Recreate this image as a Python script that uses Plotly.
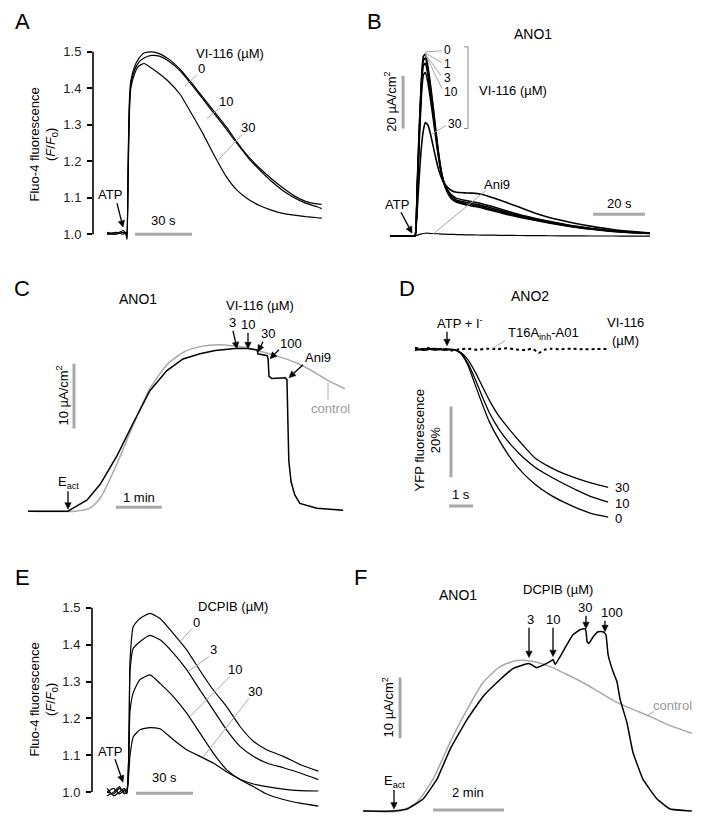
import math
import plotly.graph_objects as go

W, H = 703, 825
FONT = "Liberation Sans, Arial, sans-serif"
GRAY = "#a8a8a8"

# ---------------- data ----------------
# Panel A: Fluo-4 F/F0 vs time (s), VI-116 (uM)
A_t = [-10.5, -6, -2, -0.5, 0, 0.6, 1.2, 2, 4, 6, 9, 13, 17, 22, 28, 34, 40, 46, 52, 58, 64, 70, 76, 82, 88, 94, 100, 102.5]
A_0 = [1.005, 1.0, 1.01, 1.0, 0.985, 1.2, 1.36, 1.42, 1.46, 1.48, 1.497, 1.50, 1.495, 1.48, 1.452, 1.415, 1.375, 1.335, 1.296, 1.252, 1.212, 1.18, 1.152, 1.127, 1.105, 1.09, 1.083, 1.082]
A_10 = [1.0, 1.005, 1.0, 1.005, 0.99, 1.18, 1.34, 1.41, 1.45, 1.47, 1.483, 1.49, 1.488, 1.474, 1.448, 1.41, 1.37, 1.33, 1.29, 1.248, 1.208, 1.175, 1.145, 1.12, 1.1, 1.085, 1.075, 1.07]
A_30 = [1.0, 1.0, 1.005, 1.0, 0.99, 1.15, 1.32, 1.4, 1.44, 1.46, 1.468, 1.455, 1.44, 1.418, 1.383, 1.33, 1.275, 1.215, 1.16, 1.12, 1.095, 1.078, 1.066, 1.057, 1.052, 1.048, 1.045, 1.044]
A_ticks = [1.0, 1.1, 1.2, 1.3, 1.4, 1.5]
A_ticklabels = ["1.0", "1.1", "1.2", "1.3", "1.4", "1.5"]

# Panel B: ANO1 current (uA/cm2) vs time (s), VI-116 (uM) and Ani9
B_t = [-9.6, -1, 0, 0.8, 1.6, 2.4, 3.2, 4, 5, 6, 7, 8, 9, 10, 11, 12.5, 14, 16, 19, 22, 26, 30, 35, 40, 46, 52, 60, 68, 76, 84, 90.4]
B_0 = [0, 0, 0, 18, 40, 58, 68, 69, 64, 57, 49, 40, 32, 25, 20.5, 16.5, 14.2, 12.8, 12, 11.4, 10.6, 9.6, 8.3, 7.2, 6, 4.9, 3.6, 2.6, 1.8, 1.3, 1.0]
B_1 = [0, 0, 0, 17, 39, 57, 66.5, 67.5, 62.5, 55.5, 48, 39.5, 31.5, 25, 20.5, 16.8, 14.6, 13.2, 12.4, 11.8, 11, 10, 8.7, 7.5, 6.3, 5.1, 3.8, 2.7, 1.9, 1.35, 1.05]
B_3 = [0, 0, 0, 16, 37, 55, 64.5, 65.5, 61, 54, 46.5, 38.5, 31, 25, 20.8, 17.2, 15, 13.6, 12.9, 12.3, 11.5, 10.5, 9.1, 7.8, 6.5, 5.3, 3.9, 2.8, 1.95, 1.4, 1.1]
B_10 = [0, 0, 0, 15, 35, 52, 61, 62, 58, 51.5, 44.5, 37, 30, 24.5, 20.8, 17.6, 15.6, 14.3, 13.6, 13, 12.2, 11.1, 9.6, 8.2, 6.8, 5.5, 4.0, 2.9, 2.0, 1.45, 1.1]
B_30 = [0, 0, 0, 9, 22, 33, 40, 43, 42, 38.5, 34, 29.5, 25.5, 22.5, 20.3, 18.5, 17.3, 16.6, 16.4, 16.3, 15.8, 14.5, 12.8, 11, 8.8, 7, 5.2, 3.7, 2.5, 1.7, 1.2]
B_ani9 = [0, 0, 0, 0.3, 0.6, 0.8, 1.0, 1.1, 1.1, 1.0, 1.0, 0.9, 0.9, 0.8, 0.8, 0.7, 0.7, 0.6, 0.5, 0.45, 0.4, 0.35, 0.3, 0.25, 0.2, 0.15, 0.1, 0.05, 0.05, 0, 0]

# Panel C: ANO1 current (uA/cm2) vs time (min), VI-116 cumulative + Ani9
C_t = [-0.87, 0, 0.11, 0.41, 0.70, 1.07, 1.41, 1.78, 2.15, 2.5, 2.87, 3.2, 3.63, 3.91, 4.11, 4.13, 4.33, 4.35, 4.37, 4.43, 4.72, 4.76, 4.78, 4.80, 4.85, 4.93, 5.04, 5.41, 5.98]
C_v = [0, 0, 0.46, 1.69, 4.15, 8.6, 13.5, 18.6, 21.7, 23.5, 24.3, 24.8, 25.1, 25.1, 24.9, 24.3, 24.0, 23.5, 20.8, 20.5, 20.6, 20.3, 14, 7.8, 4.5, 2.5, 1.2, 0.46, 0.15]
C_ctrl_t = [-0.87, 0.15, 0.48, 0.70, 1.07, 1.41, 1.78, 2.15, 2.5, 2.87, 3.30, 3.91, 4.28, 4.65, 5.0, 5.37, 5.65, 6.02]
C_ctrl_v = [0, 0, 0.46, 2.0, 7.4, 13.2, 18.9, 22.6, 24.5, 25.4, 25.7, 25.2, 24.5, 23.7, 22.8, 21.4, 20.2, 18.9]

# Panel D: ANO2 YFP fluorescence change (%) vs time (s)
D_t = [0, 0.4, 0.8, 1.2, 1.6, 1.9, 2.2, 2.5, 2.8, 3.1, 3.5, 4.0, 4.5, 5.0, 5.6, 6.2, 6.8, 7.4, 8.05]
D_0 = [0.3, -0.2, 0.4, 0, 0.1, -1.0, -4.3, -9.8, -15.3, -20.4, -25.5, -30.8, -34.9, -38.0, -40.9, -43.1, -44.9, -46.4, -47.3]
D_10 = [0, 0.3, -0.1, 0.2, 0, -0.9, -3.8, -8.2, -13.2, -17.8, -22.5, -26.9, -30.4, -33.2, -35.7, -37.9, -39.9, -41.7, -43.1]
D_30 = [-0.2, 0.2, 0.3, -0.1, 0, -0.7, -2.8, -6.2, -10.3, -14.3, -18.8, -23.1, -27.0, -30.6, -33.1, -35.0, -36.5, -37.8, -38.9]
D_inh_t = [0, 0.3, 0.6, 0.9, 1.2, 1.5, 1.8, 2.2, 2.6, 3.0, 3.4, 3.8, 4.2, 4.6, 4.9, 5.15, 5.4, 5.7, 6.0, 6.5, 7.0, 7.5, 8.1]
D_inh = [0.6, 0.2, 0.5, 0.1, 0.3, -0.2, 0.1, 0.3, 0.0, 0.3, 0.2, 0.4, 0.1, -0.1, 0.3, -0.9, 0.0, 0.3, 0.1, 0.3, 0.1, 0.2, 0.2]

# Panel E: Fluo-4 F/F0 vs time (s), DCPIB (uM)
E_t = [-10.5, -7, -4, -1.5, 0, 1.6, 3.3, 6.8, 12.1, 17.4, 24.4, 31.4, 38.4, 45.4, 52.4, 59.5, 66.5, 73.5, 82.3, 91.1, 100.7]
E_0 = [1.0, 1.01, 0.995, 1.005, 1.01, 1.359, 1.449, 1.471, 1.485, 1.471, 1.43, 1.386, 1.33, 1.277, 1.232, 1.178, 1.138, 1.115, 1.097, 1.075, 1.057]
E_3 = [0.99, 1.0, 1.015, 0.995, 1.0, 1.33, 1.39, 1.408, 1.425, 1.413, 1.377, 1.332, 1.277, 1.223, 1.169, 1.124, 1.097, 1.079, 1.066, 1.052, 1.034]
E_10 = [1.01, 0.99, 1.0, 1.01, 0.995, 1.22, 1.27, 1.305, 1.318, 1.295, 1.259, 1.214, 1.16, 1.106, 1.061, 1.034, 1.015, 0.995, 0.98, 0.97, 0.962]
E_30 = [1.0, 0.995, 1.01, 1.0, 1.005, 1.1, 1.15, 1.169, 1.175, 1.172, 1.142, 1.115, 1.097, 1.079, 1.055, 1.035, 1.022, 1.015, 1.008, 1.004, 1.003]

# Panel F: ANO1 current (uA/cm2) vs time (min), DCPIB cumulative
F_t = [-0.87, -0.03, 0.37, 0.82, 1.21, 1.58, 2.06, 2.51, 2.99, 3.35, 3.78, 3.92, 4.0, 4.17, 4.39, 4.48, 4.54, 4.68, 4.87, 5.04, 5.24, 5.38, 5.41, 5.44, 5.49, 5.61, 5.75, 5.89, 5.97, 6.03, 6.17, 6.28, 6.37, 6.56, 6.73, 7.01, 7.41, 7.78, 8.39]
F_v = [0, 0, 0.33, 1.97, 5.25, 10.16, 15.08, 18.85, 21.64, 23.44, 24.26, 23.93, 23.6, 23.93, 24.59, 24.92, 24.1, 25.41, 27.38, 29.02, 29.84, 30.0, 29.51, 27.87, 27.54, 28.69, 29.51, 29.51, 29.02, 25.74, 22.95, 21.31, 18.36, 14.59, 9.67, 5.25, 1.97, 0.33, 0]
F_ctrl_t = [-0.87, 0.17, 0.65, 1.10, 1.58, 2.06, 2.51, 2.99, 3.46, 3.92, 4.39, 4.87, 5.32, 5.80, 6.28, 6.73, 7.21, 7.69, 8.39]
F_ctrl_v = [0, 0, 1.48, 5.25, 11.31, 16.72, 21.15, 23.77, 24.75, 24.59, 23.77, 22.46, 21.15, 19.51, 17.87, 16.72, 15.57, 14.26, 12.79]


# ---------------- helpers ----------------
def px(x):
    return x / W


def py(y):
    return 1 - y / H


def lin_range(p_a, v_a, p_b, v_b, lo, hi):
    s = (v_b - v_a) / (p_b - p_a)
    return [v_a + (lo - p_a) * s, v_a + (hi - p_a) * s]


fig = go.Figure()


def line(xs, ys, ax, color="black", width=1.3, dash=None, shape="spline", smooth=0.6):
    d = dict(color=color, width=width, shape=shape)
    if shape == "spline":
        d["smoothing"] = smooth
    if dash:
        d["dash"] = dash
    fig.add_trace(go.Scatter(x=xs, y=ys, mode="lines", line=d, xaxis="x" + ax, yaxis="y" + ax,
                             hoverinfo="skip", showlegend=False))


# Panel A
for ys in (A_30, A_10, A_0):
    line(A_t, ys, "", width=1.2, smooth=0.5)
# Panel B
line(B_t, B_ani9, "2", width=1.2)
for ys in (B_30, B_10, B_3, B_1, B_0):
    line(B_t, ys, "2", width=1.6, smooth=0.5)
# Panel C
line(C_ctrl_t, C_ctrl_v, "3", color=GRAY, width=1.5)
line(C_t, C_v, "3", width=1.5, shape="linear")
# Panel D
line(D_inh_t, D_inh, "4", width=2, dash="dot")
for ys in (D_30, D_10, D_0):
    line(D_t, ys, "4", width=1.3)
# Panel E
for ys in (E_30, E_10, E_3, E_0):
    line(E_t, ys, "5", width=1.2, smooth=0.5)
# Panel F
line(F_ctrl_t, F_ctrl_v, "6", color=GRAY, width=1.5)
line(F_t, F_v, "6", width=1.5, shape="spline", smooth=0.3)

# ---------------- axes ----------------
def xax(lo, hi, rng):
    return dict(domain=[px(lo), px(hi)], range=rng, visible=False, fixedrange=True)


def yax(top, bot, rng, anchor, visible=False):
    d = dict(domain=[py(bot), py(top)], range=rng, anchor=anchor, fixedrange=True)
    if not visible:
        d["visible"] = False
    else:
        d.update(showgrid=False, zeroline=False, showline=False, ticks="outside", ticklen=5,
                 tickwidth=1.5, tickcolor="black", tickvals=A_ticks, ticktext=A_ticklabels,
                 tickfont=dict(family=FONT, size=13, color="#222"), ticklabelstandoff=3)
    return d


layout_axes = dict(
    xaxis=xax(93, 330, lin_range(127, 0, 184, 30, 93, 330)),
    yaxis=yax(45, 240, lin_range(233, 1.0, 50, 1.5, 240, 45), "x", True),
    xaxis2=xax(385, 655, lin_range(415, 0, 467, 20, 385, 655)),
    yaxis2=yax(40, 240, lin_range(235, 0, 182, 20, 240, 40), "x2"),
    xaxis3=xax(20, 350, lin_range(68, 0, 114, 1, 20, 350)),
    yaxis3=yax(300, 518, lin_range(511, 0, 446, 10, 518, 300), "x3"),
    xaxis4=xax(400, 640, lin_range(415, 0, 439, 1, 400, 640)),
    yaxis4=yax(335, 525, lin_range(349, 0, 420, -20, 525, 335), "x4"),
    xaxis5=xax(92, 330, lin_range(127, 0, 184, 30, 92, 330)),
    yaxis5=yax(600, 815, lin_range(793, 1.0, 608, 1.5, 815, 600), "x5", True),
    xaxis6=xax(355, 700, lin_range(394, 0, 429.5, 1, 355, 700)),
    yaxis6=yax(595, 818, lin_range(812, 0, 751, 10, 818, 595), "x6"),
)

shapes = []


def dline(ax, x0, y0, x1, y1, color=GRAY, width=3):
    xr = "x" + ax if ax != "1" else "x"
    yr = "y" + ax if ax != "1" else "y"
    shapes.append(dict(type="line", xref=xr, yref=yr, x0=x0, y0=y0, x1=x1, y1=y1,
                       line=dict(color=color, width=width)))


def pline(x0, y0, x1, y1, color=GRAY, width=1):
    shapes.append(dict(type="line", xref="paper", yref="paper", x0=px(x0), y0=py(y0), x1=px(x1), y1=py(y1),
                       line=dict(color=color, width=width)))


def arrow(x0, y0, x1, y1, head=6.5, half=3.2, width=1.3):
    dx, dy = x1 - x0, y1 - y0
    n = math.hypot(dx, dy)
    ux, uy = dx / n, dy / n
    bx, by = x1 - head * ux, y1 - head * uy
    pline(x0, y0, bx, by, color="black", width=width)
    p1 = (bx - half * uy, by + half * ux)
    p2 = (bx + half * uy, by - half * ux)
    path = "M {:.5f},{:.5f} L {:.5f},{:.5f} L {:.5f},{:.5f} Z".format(
        px(x1), py(y1), px(p1[0]), py(p1[1]), px(p2[0]), py(p2[1]))
    shapes.append(dict(type="path", xref="paper", yref="paper", path=path,
                       fillcolor="black", line=dict(color="black", width=0.5)))


# y-axis lines (only 1.0 - 1.5)
shapes.append(dict(type="line", xref="x domain", yref="y", x0=0, x1=0, y0=1.0, y1=1.5,
                   line=dict(color="black", width=1.6)))
shapes.append(dict(type="line", xref="x5 domain", yref="y5", x0=0, x1=0, y0=1.0, y1=1.5,
                   line=dict(color="black", width=1.6)))

# scale bars (data units)
dline("1", 4.2, 1.0, 34.2, 1.0)              # 30 s
dline("2", -4.6, 40.75, -4.6, 60.75)         # 20 uA/cm2
dline("2", 68.5, 8.3, 88.5, 8.3)             # 20 s
dline("3", 0.13, 12.77, 0.13, 22.77)         # 10 uA/cm2
dline("3", 1.04, 0.6, 2.04, 0.6)             # 1 min
dline("4", 1.5, -36.06, 1.5, -16.06)         # 20 %
dline("4", 1.42, -44.2, 2.42, -44.2)         # 1 s
dline("5", 4.74, 0.997, 34.74, 0.997)        # 30 s
dline("6", 0.17, 11.97, 0.17, 21.97)         # 10 uA/cm2
dline("6", 1.1, 0.16, 3.1, 0.16)             # 2 min

# leader lines
pline(197, 73, 185, 84)
pline(220, 106, 207, 117)
pline(242, 133, 217, 160)
pline(425, 50, 442, 49)
pline(425, 51, 442, 61)
pline(425, 52, 441, 74)
pline(426, 54, 442, 87)
pline(431, 133, 446, 124)
pline(464, 45, 468, 45, color="#888")
pline(468, 45, 468, 127, color="#888")
pline(464, 127, 468, 127, color="#888")
pline(486, 189, 433, 233)
pline(328, 382, 328, 399)
pline(505, 340, 492, 348)
pline(192, 629, 180, 642)
pline(209, 657, 188, 672)
pline(230, 677, 190, 717)
pline(249, 699, 203, 758)
pline(654, 712, 646, 717)

ann = []


def txt(x, y, s, size=13, color="black", angle=0, xanchor="center"):
    ann.append(dict(x=px(x), y=py(y), xref="paper", yref="paper", text=s, showarrow=False,
                    font=dict(family=FONT, size=size, color=color), textangle=angle,
                    xanchor=xanchor, yanchor="middle"))


UA = "µA/cm<sup>2</sup>"
FTITLE = "Fluo-4 fluorescence<br>(<i>F</i>/<i>F</i><sub>0</sub>)"

# A
txt(22, 20, "A", 22)
txt(230, 52, "VI-116 (µM)")
txt(202, 67, "0"); txt(226, 100, "10"); txt(248, 126, "30")
txt(110, 193, "ATP"); arrow(117, 202, 123, 226)
txt(163, 219, "30 s")
txt(44, 143, FTITLE, 13, angle=-90)
# B
txt(375, 20, "B", 22)
txt(533, 32, "ANO1", 14)
txt(447, 48, "0", 12); txt(447, 62, "1", 12); txt(447, 76, "3", 12); txt(451, 90, "10", 12); txt(455, 122, "30", 12)
txt(513, 89, "VI-116 (µM)")
txt(390, 100, "20 " + UA, 13, angle=-90)
txt(397, 203, "ATP"); arrow(401, 211, 412, 232)
txt(497, 183, "Ani9")
txt(619, 202, "20 s")
# C
txt(22, 288, "C", 22)
txt(138, 298, "ANO1", 14)
txt(260, 305, "VI-116 (µM)")
txt(232, 322, "3"); arrow(233, 330, 237, 348)
txt(248, 324, "10"); arrow(248, 332, 248, 348)
txt(268, 333, "30"); arrow(263, 341, 258, 351)
txt(291, 343, "100"); arrow(279, 349, 270, 358)
txt(318, 357, "Ani9"); arrow(303, 364, 289, 377)
txt(68, 482, "E<sub>act</sub>"); arrow(68, 491, 68, 509)
txt(62, 395, "10 " + UA, 13, angle=-90)
txt(139, 497, "1 min")
txt(330, 408, "control", 13, color="#999")
# D
txt(407, 288, "D", 22)
txt(530, 295, "ANO2", 14)
txt(460, 322, "ATP + I<sup>-</sup>"); arrow(447, 331, 447, 345)
txt(543, 333, "T16A<sub>inh</sub>-A01")
txt(625, 322, "VI-116"); txt(625, 340, "(µM)")
txt(622, 487, "30"); txt(622, 503, "10"); txt(618, 518, "0")
txt(428, 440, "YFP fluorescence<br>20%", 13, angle=-90)
txt(461, 494, "1 s")
# E
txt(22, 578, "E", 22)
txt(233, 607, "DCPIB (µM)")
txt(196, 623, "0"); txt(213, 650, "3"); txt(235, 670, "10"); txt(255, 692, "30")
txt(110, 752, "ATP"); arrow(115, 760, 123, 783)
txt(164, 778, "30 s")
txt(44, 700, FTITLE, 13, angle=-90)
# F
txt(360, 578, "F", 22)
txt(458, 595, "ANO1", 14)
txt(558, 590, "DCPIB (µM)")
txt(530, 620, "3"); arrow(529, 628, 529, 658)
txt(553, 620, "10"); arrow(553, 628, 553, 657)
txt(585, 608, "30"); arrow(586, 616, 586, 629)
txt(612, 613, "100"); arrow(605, 621, 605, 632)
txt(394, 782, "E<sub>act</sub>"); arrow(394, 791, 394, 810)
txt(388, 708, "10 " + UA, 13, angle=-90)
txt(468, 793, "2 min")
txt(672, 706, "control", 13, color="#999")

fig.update_layout(
    width=W, height=H, autosize=False,
    margin=dict(l=0, r=0, t=0, b=0),
    paper_bgcolor="white", plot_bgcolor="white",
    font=dict(family=FONT, size=13, color="black"),
    shapes=shapes, annotations=ann, showlegend=False,
    **layout_axes,
)

fig.write_html("out.html", config={"displayModeBar": False},
               post_script="document.body.style.margin='0';document.body.style.overflow='hidden';")
